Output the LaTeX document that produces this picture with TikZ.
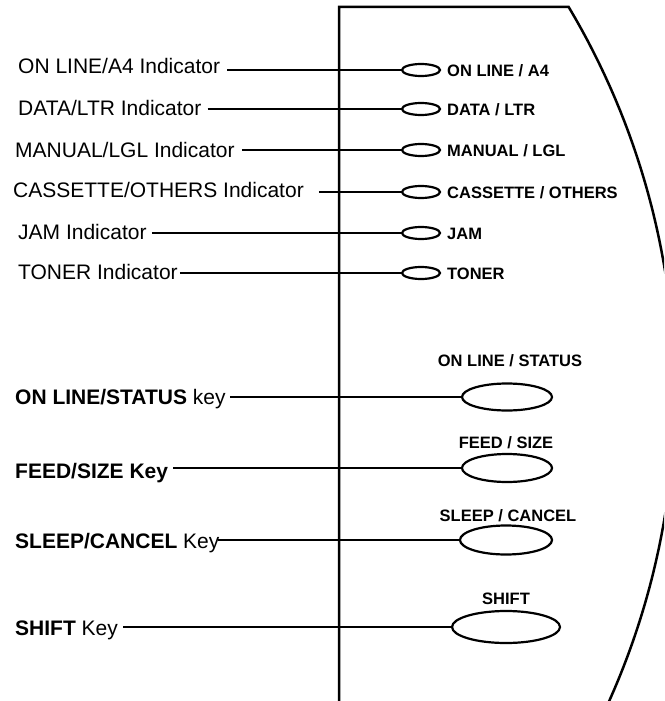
\documentclass[tikz,border=0pt]{standalone}
\usepackage{fontspec}
\setmainfont{Liberation Sans}
\usetikzlibrary{shapes.geometric}
\begin{document}
\begin{tikzpicture}[x=1pt,y=-1pt,
  lab/.style={anchor=base west, inner sep=0pt, font=\fontsize{21}{25}\selectfont},
  ind/.style={anchor=base west, inner sep=0pt, font=\fontsize{16.5}{20}\selectfont\bfseries},
  keylab/.style={anchor=base, inner sep=0pt, font=\fontsize{16.5}{20}\selectfont\bfseries},
  led/.style={draw, line width=2.2pt, ellipse, minimum width=38pt, minimum height=12pt, inner sep=0pt},
  keybtn/.style={draw, line width=2.2pt, ellipse, inner sep=0pt},
  leader/.style={line width=1.6pt},
  panel/.style={line width=2.5pt}]
\useasboundingbox (0,0) rectangle (664,701);
\clip (0,0) rectangle (664,701);
% panel outline
\draw[panel] (339,715) -- (339,7) -- plot[domain=-30.8:27, samples=120] ({-79+754*cos(\x)},{393+754*sin(\x)});
% indicators
\node[led] (l1) at (421,70) {};
\node[led] (l2) at (421,109) {};
\node[led] (l3) at (421,150) {};
\node[led] (l4) at (421,192) {};
\node[led] (l5) at (421,233) {};
\node[led] (l6) at (421,273) {};
\node[ind] (r1) at (447,76) {ON LINE / A4};
\node[ind] (r2) at (447,115) {DATA / LTR};
\node[ind] (r3) at (447,156) {MANUAL / LGL};
\node[ind] (r4) at (447,198) {CASSETTE / OTHERS};
\node[ind] (r5) at (447,239) {JAM};
\node[ind] (r6) at (447,279) {TONER};
\node[lab] (t1) at (18,74) {ON LINE/A4 Indicator};
\node[lab] (t2) at (18,115) {DATA/LTR Indicator};
\node[lab] (t3) at (15,157) {MANUAL/LGL Indicator};
\node[lab] (t4) at (13,197) {CASSETTE/OTHERS Indicator};
\node[lab] (t5) at (18,239) {JAM Indicator};
\node[lab] (t6) at (18,279) {TONER Indicator};
\draw[leader] ([xshift=7pt]t1.east |- l1.west) -- (l1.west);
\draw[leader] ([xshift=6pt]t2.east |- l2.west) -- (l2.west);
\draw[leader] ([xshift=7pt]t3.east |- l3.west) -- (l3.west);
\draw[leader] ([xshift=15pt]t4.east |- l4.west) -- (l4.west);
\draw[leader] ([xshift=5pt]t5.east |- l5.west) -- (l5.west);
\draw[leader] ([xshift=2pt]t6.east |- l6.west) -- (l6.west);
% keys
\node[keybtn, minimum width=90pt, minimum height=27pt] (k1) at (507,397) {};
\node[keybtn, minimum width=90pt, minimum height=28pt] (k2) at (507,468) {};
\node[keybtn, minimum width=92pt, minimum height=29pt] (k3) at (506,540) {};
\node[keybtn, minimum width=108pt, minimum height=32pt] (k4) at (506,627) {};
\node[keylab] (h1) at (510,366) {ON LINE / STATUS};
\node[keylab] (h2) at (506,448) {FEED / SIZE};
\node[keylab] (h3) at (508,521) {SLEEP / CANCEL};
\node[keylab] (h4) at (506,604) {SHIFT};
\node[lab] (s1) at (15,404) {\textbf{ON LINE/STATUS} key};
\node[lab] (s2) at (15,478) {\textbf{FEED/SIZE Key}};
\node[lab] (s3) at (15,548) {\textbf{SLEEP/CANCEL} Key};
\node[lab] (s4) at (15,635) {\textbf{SHIFT} Key};
\draw[leader] ([xshift=4pt]s1.east |- k1.west) -- (k1.west);
\draw[leader] ([xshift=5pt]s2.east |- k2.west) -- (k2.west);
\draw[leader] ([xshift=-2pt]s3.east |- k3.west) -- (k3.west);
\draw[leader] ([xshift=5pt]s4.east |- k4.west) -- (k4.west);
\end{tikzpicture}
\end{document}
